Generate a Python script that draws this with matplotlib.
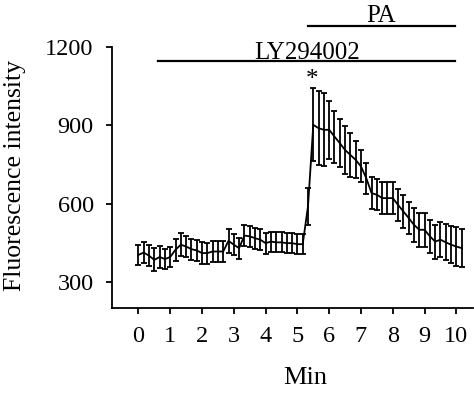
import numpy as np
import matplotlib
matplotlib.use("Agg")
import matplotlib.pyplot as plt

plt.rcParams['font.family'] = ['Liberation Serif', 'DejaVu Serif']

# sampling every 10 s, 62 frames
seconds = np.arange(0, 620, 10)
minutes = seconds / 60.0

means = [404, 413, 401, 385, 396, 388, 396, 424, 443, 436,
         426, 421, 411, 411, 417, 417, 417, 458, 443, 430,
         478, 475, 468, 462, 449, 455, 452, 452, 449, 449,
         445, 445, 590, 901, 888, 882, 882, 856, 831, 805,
         786, 767, 742, 697, 640, 634, 621, 621, 621, 595,
         570, 545, 519, 500, 500, 475, 455, 462, 452, 443,
         436, 430]
errors = [37, 40, 40, 44, 43, 38, 38, 42, 45, 40,
          40, 40, 41, 40, 40, 40, 40, 46, 40, 40,
          41, 40, 40, 40, 40, 38, 38, 38, 38, 38,
          38, 38, 70, 140, 141, 140, 111, 99, 92, 92,
          83, 71, 61, 60, 60, 60, 60, 60, 60, 62,
          62, 62, 64, 64, 64, 64, 65, 67, 69, 70,
          73, 73]

xticks = list(range(0, 11))
yticks = [300, 600, 900, 1200]

ly_span = (0.63, 9.95, 1145)
pa_span = (5.34, 9.95, 1280)

fig = plt.figure(figsize=(4.74, 3.93), dpi=100)
ax = fig.add_axes([0.2357, 0.2155, 0.762, 0.666])

ax.errorbar(minutes, means, yerr=errors, color='black', lw=1.3,
            elinewidth=1.3, capsize=2, capthick=1.3)

ax.set_xlim(-0.84, 10.52)
ax.set_ylim(200, 1200)
ax.set_xticks(xticks)
ax.set_yticks(yticks)
ax.spines['top'].set_visible(False)
ax.spines['right'].set_visible(False)
ax.spines['left'].set_linewidth(1.3)
ax.spines['bottom'].set_linewidth(1.3)
ax.tick_params(direction='out', length=4, width=1.3, labelsize=17.5)
ax.tick_params(axis='x', pad=9)
ax.tick_params(axis='y', pad=9)

ax.set_xlabel('Min', fontsize=19, va='top')
ax.xaxis.set_label_coords(0.5 + (306 - 292.7) / 361, -0.224)
ax.set_ylabel('Fluorescence intensity', fontsize=18.5)
ax.yaxis.set_label_coords(-0.237, 0.5 + 1.5 / 261.7)

# treatment bars
ax.plot([ly_span[0], ly_span[1]], [ly_span[2], ly_span[2]], color='black',
        lw=1.6, clip_on=False)
ax.text(5.29, 1151, 'LY294002', ha='center', va='baseline', fontsize=18)
ax.plot([pa_span[0], pa_span[1]], [pa_span[2], pa_span[2]], color='black',
        lw=1.6, clip_on=False)
ax.text(7.64, 1292, 'PA', ha='center', va='baseline', fontsize=18,
        clip_on=False)

ax.text(5.45, 1032, '*', ha='center', va='bottom', fontsize=18)

fig.savefig('out.png', dpi=100)
